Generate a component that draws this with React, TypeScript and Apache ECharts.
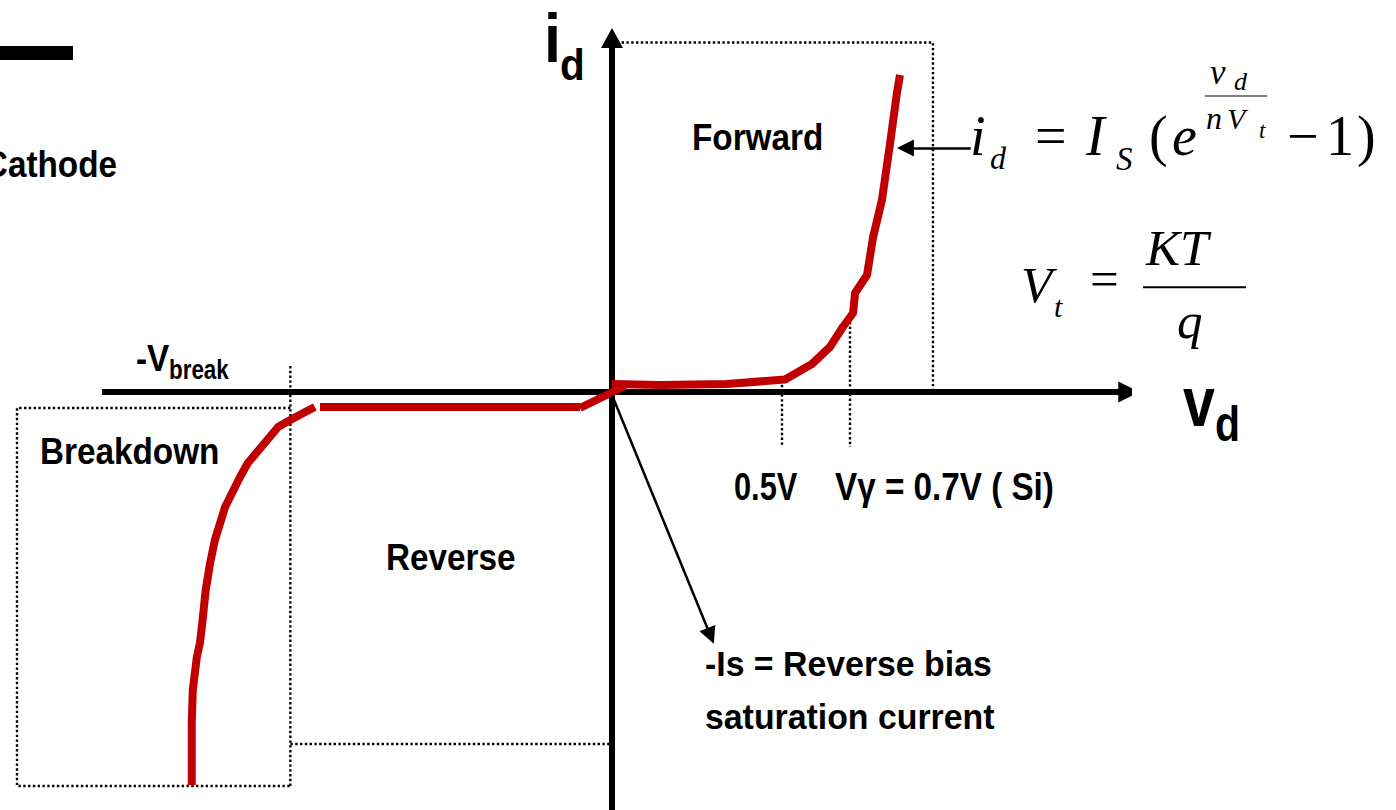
import React, { useEffect, useRef } from "react";
import * as echarts from "echarts";

// Diode I–V characteristic in schematic units: v_d in volts, i_d in mA.

// Forward-bias branch: nearly flat, knee around 0.5–0.7 V, then steep rise
const forwardCurve: [number, number][] = [
  [0.0, 0.8], [0.141, 0.7], [0.338, 0.8], [0.509, 1.25], [0.588, 2.8],
  [0.641, 4.5], [0.679, 6.5], [0.709, 7.9], [0.715, 9.9], [0.75, 11.7],
  [0.768, 15.5], [0.794, 19.2], [0.818, 24.9], [0.838, 29.9], [0.847, 31.7],
];
// Short piece passing through the origin
const originCrossing: [number, number][] = [[-0.094, -1.6], [0.038, 0.6]];
// Reverse bias: current settles at -Is
const saturationCurrent = -1.5;
const reverseVoltageSpan = [-0.859, -0.094];
// Breakdown branch beyond -V_break
const breakdownCurve: [number, number][] = [
  [-1.236, -39.3], [-1.236, -33.1], [-1.233, -29.8], [-1.221, -26.5],
  [-1.212, -25.1], [-1.205, -23.1], [-1.195, -19.8], [-1.182, -17.1],
  [-1.168, -14.8], [-1.138, -11.5], [-1.094, -8.5], [-1.071, -7.1],
  [-0.982, -3.5], [-0.957, -3.0], [-0.908, -2.1], [-0.874, -1.5],
];

// Guide lines
const kneeVoltages = [0.5, 0.7];
const kneeCurrents = [1.2, 7.5];
const kneeGuideBottom = -5.5;
const breakVoltage = -0.946;
const breakGuideSpan = [2.6, -39.4];
const forwardRegion: [number, number][] = [[0, 34.95], [0.944, 34.95], [0.944, 0]];
const breakdownRegion: [number, number][] = [[-0.946, -1.6], [-1.75, -1.6], [-1.75, -39.4], [-0.946, -39.4]];
const reverseRegionBottom: [number, number][] = [[-0.946, -35.2], [0, -35.2]];

// Horizontal v_d axis drawn from -1.5 V to its arrow tip
const vAxisSpan = [-1.5, 1.52];

// Annotation arrows (start, end)
const equationArrow: [number, number][] = [[1.055, 24.4], [0.863, 24.4]];
const saturationArrow: [number, number][] = [[0, -0.3], [0.29, -24.4]];

// Plot extents
const vRange = [-1.8, 1.52];
const iRange = [-41.8, 35.4];

const RED = "#C00000";
const SANS = '"Liberation Sans", Arial, Helvetica, sans-serif';
const SERIF = '"Liberation Serif", "Times New Roman", serif';

type TextOpts = { sx?: number; align?: string; italic?: boolean; serif?: boolean; bold?: boolean };

function txt(text: string, x: number, y: number, size: number, o: TextOpts = {}) {
  const align = o.align ?? "left";
  return {
    type: "text",
    x,
    y,
    scaleX: o.sx ?? 1,
    silent: true,
    style: {
      text,
      fontSize: size,
      fontFamily: o.serif ? SERIF : SANS,
      fontWeight: o.bold === false || o.serif ? "normal" : "bold",
      fontStyle: o.italic ? "italic" : "normal",
      fill: "#000",
      align,
      verticalAlign: "middle",
      textAlign: align,
      textVerticalAlign: "middle",
    },
  };
}

const dotted = { color: "#000", width: 2.4, type: [2.4, 2.4] as number[] };

function guide(name: string, data: [number, number][]) {
  return {
    name,
    type: "line",
    data,
    clip: false,
    silent: true,
    showSymbol: false,
    symbol: "none",
    lineStyle: dotted,
    z: 1,
  };
}

function redLine(name: string, data: [number, number][]) {
  return {
    name,
    type: "line",
    data,
    silent: true,
    showSymbol: false,
    symbol: "none",
    clip: false,
    lineStyle: { color: RED, width: 8, cap: "butt", join: "round" },
    z: 5,
  };
}

export default function App() {
  const ref = useRef<HTMLDivElement>(null);

  useEffect(() => {
    if (!ref.current) return;
    const chart = echarts.init(ref.current, undefined, { renderer: "svg" });

    const option: any = {
      animation: false,
      backgroundColor: "#fff",
      grid: { left: 0, right: 267.2, top: 38, bottom: 0, containLabel: false },
      xAxis: {
        type: "value",
        min: vRange[0],
        max: vRange[1],
        axisLine: { show: false },
        axisTick: { show: false },
        axisLabel: { show: false },
        splitLine: { show: false },
      },
      yAxis: {
        type: "value",
        min: iRange[0],
        max: iRange[1],
        axisLine: {
          show: true,
          onZero: true,
          symbol: ["none", "triangle"],
          symbolSize: [22, 20],
          lineStyle: { color: "#000", width: 6 },
        },
        axisTick: { show: false },
        axisLabel: { show: false },
        splitLine: { show: false },
      },
      series: [
        guide("forward region", forwardRegion),
        guide("breakdown region", breakdownRegion),
        guide("reverse region", reverseRegionBottom),
        guide("-V break", [
          [breakVoltage, breakGuideSpan[0]],
          [breakVoltage, breakGuideSpan[1]],
        ]),
        ...kneeVoltages.map((v, k) =>
          guide(`knee ${v}`, [
            [v, kneeCurrents[k]],
            [v, kneeGuideBottom],
          ])
        ),
        {
          name: "v axis",
          type: "lines",
          coordinateSystem: "cartesian2d",
          silent: true,
          symbol: ["none", "triangle"],
          symbolSize: 21,
          lineStyle: { color: "#000", width: 6, opacity: 1 },
          data: [{ coords: [[vAxisSpan[0], 0], [vAxisSpan[1], 0]] }],
          z: 3,
        },
        redLine("breakdown", breakdownCurve),
        redLine("reverse", reverseVoltageSpan.map((v) => [v, saturationCurrent]) as [number, number][]),
        redLine("origin", originCrossing),
        redLine("forward", forwardCurve),
        {
          name: "arrows",
          type: "lines",
          coordinateSystem: "cartesian2d",
          silent: true,
          symbol: ["none", "triangle"],
          symbolSize: 17,
          lineStyle: { color: "#000", width: 2.5, opacity: 1 },
          data: [{ coords: equationArrow }, { coords: saturationArrow }],
          z: 6,
        },
      ],
      graphic: [
        { type: "rect", shape: { x: 0, y: 46, width: 73, height: 14 }, style: { fill: "#000" }, silent: true },
        txt("Cathode", 117, 164, 37, { sx: 0.9, align: "right" }),
        // axis titles
        txt("i", 544, 38, 68, { sx: 0.9 }),
        txt("d", 560, 64.4, 45, { sx: 0.9 }),
        txt("v", 1183, 402.4, 70, { sx: 0.82 }),
        txt("d", 1215, 424.4, 50, { sx: 0.82 }),
        // region names
        txt("Forward", 692, 137, 37, { sx: 0.9 }),
        txt("Breakdown", 40, 450.5, 37, { sx: 0.9 }),
        txt("Reverse", 386, 557, 37, { sx: 0.9 }),
        txt("-V", 136, 357.5, 37, { sx: 0.9 }),
        txt("break", 169, 370, 27, { sx: 0.83 }),
        txt("0.5V", 734, 486.8, 38, { sx: 0.81 }),
        txt("Vγ = 0.7V ( Si)", 835, 486.8, 38, { sx: 0.875 }),
        txt("-Is = Reverse bias", 705, 663.5, 36, { sx: 0.94 }),
        txt("saturation current", 705, 716.5, 36, { sx: 0.94 }),
        // i_d = I_S (e^{v_d / nV_t} - 1)
        txt("i", 970, 136, 56, { serif: true, italic: true }),
        txt("d", 990, 157.5, 32, { serif: true, italic: true }),
        txt("=", 1035, 136, 56, { serif: true }),
        txt("I", 1086, 136, 56, { serif: true, italic: true }),
        txt("S", 1116, 158.9, 33, { serif: true, italic: true }),
        txt("(", 1149, 136, 56, { serif: true }),
        txt("e", 1172, 136, 56, { serif: true, italic: true }),
        txt("v", 1210, 72, 35, { serif: true, italic: true }),
        txt("d", 1234, 81.5, 26, { serif: true, italic: true }),
        { type: "line", shape: { x1: 1205, y1: 96, x2: 1267, y2: 96 }, style: { stroke: "#555", lineWidth: 1.5 }, silent: true },
        txt("n", 1206, 118, 32, { serif: true, italic: true }),
        txt("V", 1227, 118.5, 30, { serif: true, italic: true }),
        txt("t", 1259, 130.9, 23, { serif: true, italic: true }),
        txt("−", 1287, 136, 56, { serif: true }),
        txt("1", 1326, 136, 56, { serif: true }),
        txt(")", 1357, 136, 56, { serif: true }),
        // V_t = KT / q
        txt("V", 1021, 284.5, 51, { serif: true, italic: true }),
        txt("t", 1054, 306.6, 30, { serif: true, italic: true }),
        txt("=", 1090, 279, 51, { serif: true }),
        txt("KT", 1146, 247.8, 51, { serif: true, italic: true }),
        { type: "line", shape: { x1: 1143, y1: 287.3, x2: 1246, y2: 287.3 }, style: { stroke: "#000", lineWidth: 2 }, silent: true },
        txt("q", 1177, 320.8, 51, { serif: true, italic: true }),
      ],
    };

    chart.setOption(option);
    return () => chart.dispose();
  }, []);

  return (
    <div
      ref={ref}
      style={{ position: "absolute", left: 0, top: 0, width: 1396, height: 810, background: "#fff" }}
    />
  );
}
